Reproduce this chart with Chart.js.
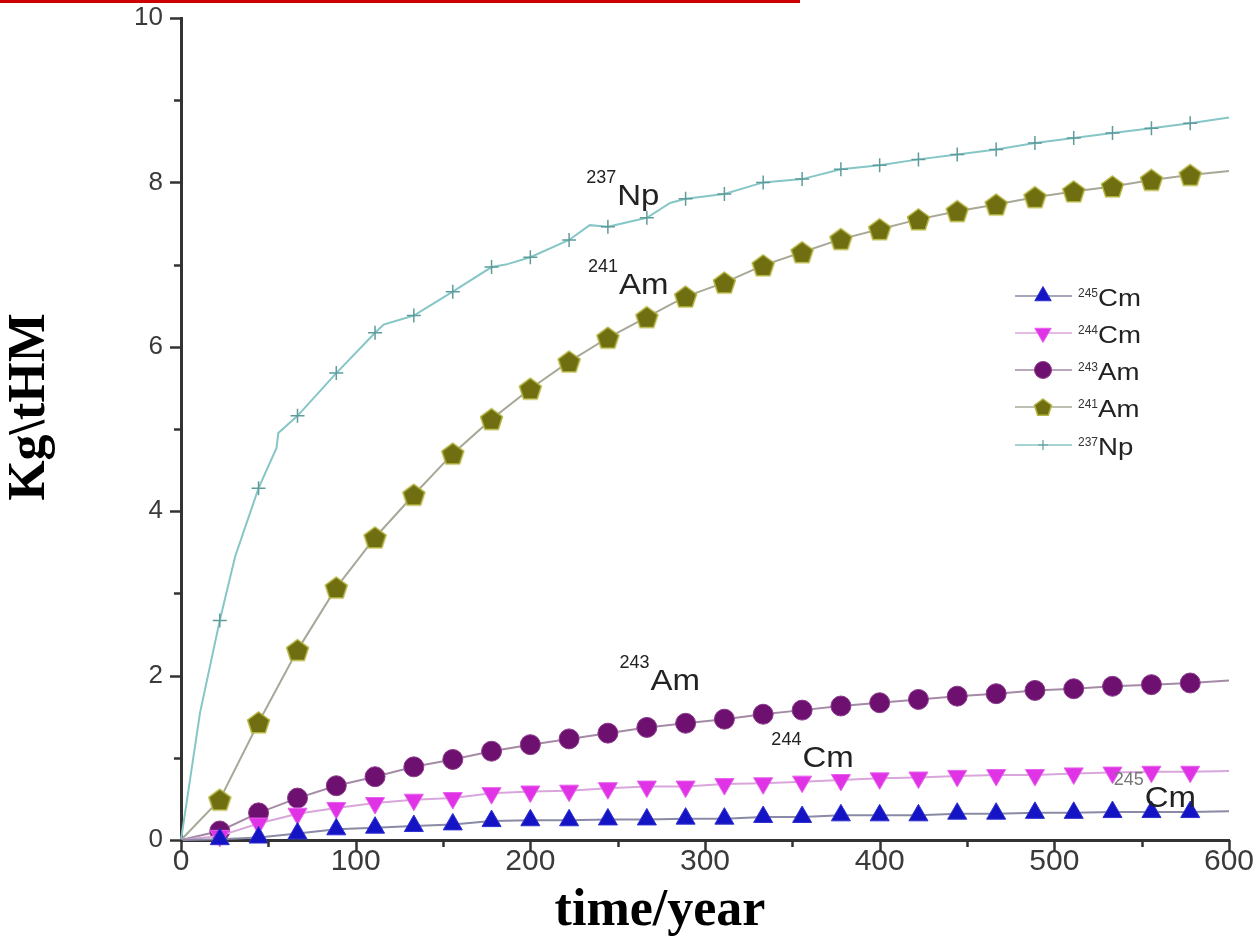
<!DOCTYPE html>
<html><head><meta charset="utf-8">
<script src="https://cdn.jsdelivr.net/npm/chart.js@4/dist/chart.umd.min.js"></script>
<style>
html,body{margin:0;padding:0;background:#fff;}
#wrap{position:relative;width:1256px;height:939px;overflow:hidden;}
#redline{position:absolute;left:0;top:0;width:800px;height:3px;background:#cc0000;}
</style>
</head><body>
<div id="wrap"><canvas id="c" width="1256" height="939"></canvas><div id="redline"></div></div>
<script>
// ---- data ----
const markerYears = [22.2, 44.4, 66.7, 88.9, 111.1, 133.3, 155.6, 177.8, 200, 222.2, 244.4, 266.7, 288.9,
  311.1, 333.3, 355.6, 377.8, 400, 422.2, 444.4, 466.7, 488.9, 511.1, 533.3, 555.6, 577.8];
const cm245 = [0.01, 0.03, 0.08, 0.13, 0.15, 0.17, 0.19, 0.23, 0.24, 0.24, 0.25, 0.25, 0.26, 0.26, 0.28, 0.28,
  0.30, 0.30, 0.30, 0.32, 0.32, 0.33, 0.33, 0.34, 0.34, 0.34];
const cm245End = 0.35;
const cm244 = [0.05, 0.20, 0.32, 0.39, 0.45, 0.49, 0.51, 0.57, 0.59, 0.60, 0.63, 0.65, 0.65, 0.68, 0.69, 0.71,
  0.73, 0.75, 0.76, 0.78, 0.79, 0.79, 0.81, 0.82, 0.83, 0.83];
const cm244End = 0.84;
const am243 = [0.11, 0.33, 0.51, 0.66, 0.77, 0.89, 0.98, 1.08, 1.16, 1.23, 1.30, 1.37, 1.42, 1.47, 1.53, 1.58,
  1.63, 1.67, 1.71, 1.75, 1.78, 1.82, 1.84, 1.87, 1.89, 1.91];
const am243End = 1.94;
const am241 = [0.49, 1.43, 2.31, 3.07, 3.68, 4.20, 4.70, 5.12, 5.49, 5.82, 6.11, 6.36, 6.61, 6.78, 6.99, 7.15,
  7.31, 7.43, 7.55, 7.65, 7.73, 7.82, 7.89, 7.95, 8.03, 8.09];
const am241End = 8.14;
const npYears = [0, 10.9, 22.2, 31, 44.4, 54.7, 55.7, 66.7, 88.9, 111.1, 116, 133.3, 155.6, 177.8, 186, 200,
  222.2, 234, 244.4, 266.7, 280, 288.9, 311.1, 333.3, 355.6, 377.8, 400, 422.2, 444.4, 466.7, 488.9, 511.1,
  533.3, 555.6, 577.8, 600];
const npValues = [0, 1.55, 2.67, 3.45, 4.28, 4.77, 4.95, 5.16, 5.68, 6.17, 6.27, 6.38, 6.67, 6.97, 7.00, 7.09,
  7.30, 7.48, 7.46, 7.57, 7.75, 7.80, 7.86, 8.00, 8.04, 8.16, 8.21, 8.28, 8.34, 8.40, 8.48, 8.54,
  8.60, 8.66, 8.72, 8.79];
const seriesNames = [['245', 'Cm'], ['244', 'Cm'], ['243', 'Am'], ['241', 'Am'], ['237', 'Np']];
const xTickValues = [0, 100, 200, 300, 400, 500, 600];
const yTickValues = [0, 2, 4, 6, 8, 10];

// ---- annotation placement (data coordinates) ----
const annotations = [
  {sup: '237', main: 'Np', x: 232, y: 7.73},
  {sup: '241', main: 'Am', x: 233, y: 6.64},
  {sup: '243', main: 'Am', x: 251, y: 1.83},
  {sup: '244', main: 'Cm', x: 338, y: 0.89},
  {sup: '245', main: 'Cm', x: 534, y: 0.405, supColor: '#777'}
];

function makePentagon(r, fill, stroke) {
  const s = Math.ceil(r * 2 + 6);
  const c = document.createElement('canvas');
  c.width = s; c.height = s;
  const g = c.getContext('2d');
  g.beginPath();
  for (let i = 0; i < 5; i++) {
    const a = -Math.PI / 2 + i * 2 * Math.PI / 5;
    const px = s / 2 + r * Math.cos(a), py = s / 2 + 1 + r * Math.sin(a);
    if (i) g.lineTo(px, py); else g.moveTo(px, py);
  }
  g.closePath();
  g.fillStyle = fill; g.fill();
  g.strokeStyle = stroke; g.lineWidth = 1.5; g.stroke();
  return c;
}
const pent = makePentagon(11.5, '#6f6f12', '#b5b540');
const pentSmall = makePentagon(9, '#6f6f12', '#b5b540');

function series(values, endValue) {
  return [{x: 0, y: 0}].concat(markerYears.map((yr, i) => ({x: yr, y: values[i]})), [{x: 600, y: endValue}]);
}
function radii(r) { return [0].concat(markerYears.map(() => r), [0]); }

const styles = [
  {line: '#8a8aa6', point: '#1414c4', border: '#3030d0', style: 'triangle', rot: 0, r: 11},
  {line: '#d9a6dc', point: '#e033e6', border: '#e860ee', style: 'triangle', rot: 180, r: 11},
  {line: '#a58aa6', point: '#6e106f', border: '#8a3a8c', style: 'circle', rot: 0, r: 10},
  {line: '#a8a898', point: pent, border: '#6f6f12', style: 'pent', rot: 0, r: 11.5},
  {line: '#86c6c6', point: '#5e9c9c', border: '#5e9c9c', style: 'cross', rot: 0, r: 7}
];

const datasets = [
  {data: series(cm245, cm245End), pointRadius: radii(11)},
  {data: series(cm244, cm244End), pointRadius: radii(11)},
  {data: series(am243, am243End), pointRadius: radii(10)},
  {data: series(am241, am241End), pointRadius: radii(11.5)},
  {data: npYears.map((yr, i) => ({x: yr, y: npValues[i]})),
   pointRadius: npYears.map(yr => markerYears.includes(yr) ? 7 : 0)}
].map((d, i) => {
  const s = styles[i];
  return Object.assign(d, {
    label: seriesNames[i].join(''),
    borderColor: s.line,
    borderWidth: 2,
    backgroundColor: s.style === 'pent' ? '#6f6f12' : s.point,
    pointBackgroundColor: s.style === 'pent' ? '#6f6f12' : s.point,
    pointBorderColor: s.border,
    pointBorderWidth: s.style === 'cross' ? 1.5 : 1,
    pointStyle: s.style === 'pent' ? pent : s.style,
    pointRotation: s.rot,
    tension: 0,
    clip: false,
    order: i
  });
});

const deco = {
  id: 'deco',
  afterDraw(chart) {
    const ctx = chart.ctx, xs = chart.scales.x, ys = chart.scales.y;
    const left = chart.chartArea.left, bottom = chart.chartArea.bottom;
    ctx.save();
    // tick marks (major/minor)
    ctx.strokeStyle = '#333';
    ctx.lineWidth = 2.5;
    for (let v = 0; v <= 10; v++) {
      const y = Math.round(ys.getPixelForValue(v)) + 0.5;
      const len = v % 2 === 0 ? 11 : 7;
      ctx.beginPath(); ctx.moveTo(left - len, y); ctx.lineTo(left, y); ctx.stroke();
    }
    for (let v = 0; v <= 600; v += 50) {
      const x = Math.round(xs.getPixelForValue(v)) + 0.5;
      const len = v % 100 === 0 ? 11 : 7;
      ctx.beginPath(); ctx.moveTo(x, bottom); ctx.lineTo(x, bottom + len); ctx.stroke();
    }
    // in-plot labels
    ctx.textBaseline = 'alphabetic';
    ctx.textAlign = 'left';
    annotations.forEach(a => {
      const x = xs.getPixelForValue(a.x), y = ys.getPixelForValue(a.y);
      ctx.fillStyle = a.supColor || '#222';
      ctx.font = '18px "Liberation Sans", Arial, sans-serif';
      ctx.fillText(a.sup, x, y - 22);
      const w = ctx.measureText(a.sup).width;
      ctx.save();
      ctx.translate(x + w + 1, y);
      ctx.scale(1.1, 1);
      ctx.fillStyle = '#222';
      ctx.font = '30px "Liberation Sans", Arial, sans-serif';
      ctx.fillText(a.main, 0, 0);
      ctx.restore();
    });
    // legend
    const lx0 = 1015, lx1 = 1072, lmx = 1043;
    const rowsY = [296, 333, 370, 407, 445];
    const legendOrder = [0, 1, 2, 3, 4];
    legendOrder.forEach((di, k) => {
      const s = styles[di];
      const yy = rowsY[k];
      ctx.strokeStyle = s.line; ctx.lineWidth = 1.5;
      ctx.beginPath(); ctx.moveTo(lx0, yy); ctx.lineTo(lx1, yy); ctx.stroke();
      const opts = {
        pointStyle: s.style === 'pent' ? pentSmall : s.style,
        rotation: s.rot,
        radius: s.style === 'cross' ? 5 : (s.style === 'circle' ? 8.5 : 9.5),
        borderWidth: s.style === 'cross' ? 1.2 : 1
      };
      ctx.fillStyle = s.style === 'pent' ? '#6f6f12' : s.point;
      ctx.strokeStyle = s.border;
      ctx.lineWidth = opts.borderWidth;
      Chart.helpers.drawPoint(ctx, opts, lmx, yy);
      const nm = seriesNames[di];
      ctx.fillStyle = '#333';
      ctx.font = '12px "Liberation Sans", Arial, sans-serif';
      ctx.fillText(nm[0], 1078, yy + 1);
      ctx.save();
      ctx.translate(1098, yy + 10);
      ctx.scale(1.2, 1);
      ctx.font = '23px "Liberation Sans", Arial, sans-serif';
      ctx.fillStyle = '#222';
      ctx.fillText(nm[1], 0, 0);
      ctx.restore();
    });
    // axis titles
    ctx.fillStyle = '#000';
    ctx.font = 'bold 52px "Liberation Serif", "Times New Roman", serif';
    ctx.textAlign = 'center';
    ctx.fillText('time/year', 660, 925);
    ctx.save();
    ctx.translate(44, 407);
    ctx.rotate(-Math.PI / 2);
    ctx.fillText('Kg\\tHM', 0, 0);
    ctx.restore();
    ctx.restore();
  }
};

new Chart(document.getElementById('c'), {
  type: 'line',
  data: {datasets},
  options: {
    responsive: false,
    animation: false,
    devicePixelRatio: 1,
    events: [],
    layout: {padding: {top: 18, right: 27, left: 0, bottom: 0}},
    plugins: {legend: {display: false}, tooltip: {enabled: false}},
    scales: {
      x: {
        type: 'linear', min: 0, max: 600,
        afterBuildTicks: s => { s.ticks = xTickValues.map(v => ({value: v})); },
        afterFit: s => { s.height = 99; },
        grid: {display: true, drawOnChartArea: false, drawTicks: true, tickLength: 4, tickColor: 'rgba(0,0,0,0)'},
        border: {display: true, color: '#333', width: 3},
        ticks: {padding: 0, color: '#3a3a3a', maxRotation: 0,
          font: {family: '"Liberation Sans", Arial, sans-serif', size: 30}}
      },
      y: {
        type: 'linear', min: 0, max: 10,
        afterBuildTicks: s => { s.ticks = yTickValues.map(v => ({value: v})); },
        afterFit: s => { s.width = 181; },
        grid: {display: true, drawOnChartArea: false, drawTicks: true, tickLength: 18, tickColor: 'rgba(0,0,0,0)'},
        border: {display: true, color: '#333', width: 3},
        ticks: {padding: 0, color: '#3a3a3a',
          font: {family: '"Liberation Sans", Arial, sans-serif', size: 26}}
      }
    }
  },
  plugins: [deco]
});
</script>
</body></html>
